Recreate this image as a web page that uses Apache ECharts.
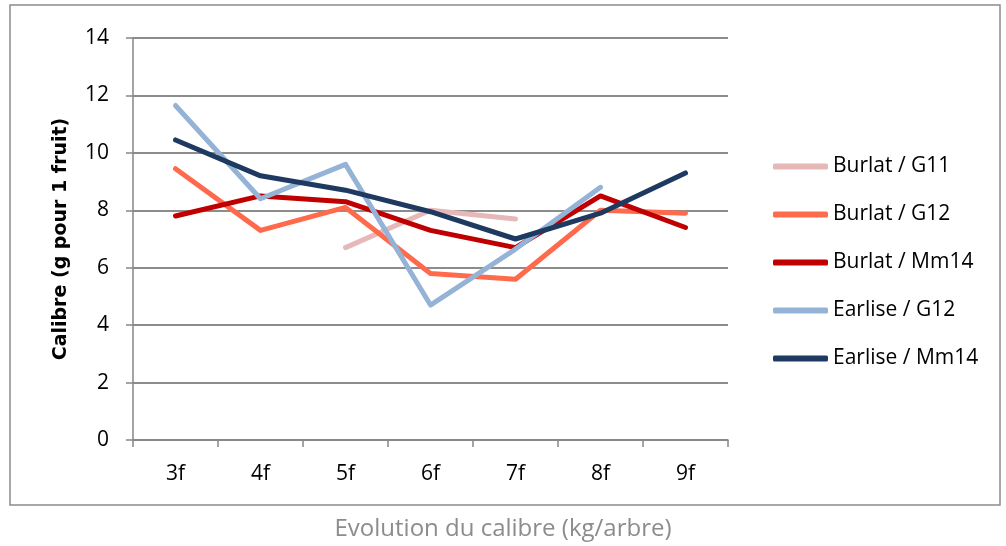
<!DOCTYPE html>
<html>
<head>
<meta charset="utf-8">
<script src="https://cdn.jsdelivr.net/npm/echarts@6/dist/echarts.min.js"></script>
<style>
html, body { margin: 0; padding: 0; background: #fff; }
#chart { width: 1006px; height: 546px; }
</style>
</head>
<body>
<div id="chart"></div>
<script>
var categories = ['3f', '4f', '5f', '6f', '7f', '8f', '9f'];
var burlatG11 = [null, null, 6.7, 8.0, 7.7, null, null];
var burlatG12 = [9.45, 7.3, 8.1, 5.8, 5.6, 8.0, 7.9];
var burlatMm14 = [7.8, 8.5, 8.3, 7.3, 6.7, 8.5, 7.4];
var earliseG12 = [11.65, 8.4, 9.6, 4.7, 6.65, 8.8, null];
var earliseMm14 = [10.45, 9.2, 8.7, 7.95, 7.0, 7.9, 9.3];
var seriesNames = ['Burlat / G11', 'Burlat / G12', 'Burlat / Mm14', 'Earlise / G12', 'Earlise / Mm14'];
var seriesColors = ['#e6b9b8', '#ff6a4d', '#c00000', '#95b3d7', '#1f3a60'];

var chart = echarts.init(document.getElementById('chart'));
var font = 'Open Sans';

function line(idx, data) {
	return {
		name: seriesNames[idx],
		type: 'line',
		data: data,
		symbol: 'none',
		connectNulls: false,
		lineStyle: { width: 5, color: seriesColors[idx], cap: 'round', join: 'round' },
		itemStyle: { color: seriesColors[idx] },
		z: 2 + idx
	};
}

var option = {
	backgroundColor: '#fff',
	animation: false,
	title: {
		text: 'Evolution du calibre (kg/arbre)',
		left: 'center',
		top: 512,
		textStyle: { color: '#8c8c8c', fontSize: 24, fontWeight: 'normal', fontFamily: font }
	},
	graphic: [{
		type: 'rect',
		shape: { x: 10, y: 5, width: 990, height: 500 },
		style: { fill: 'none', stroke: '#8c8c8c', lineWidth: 1.5 },
		z: -1
	}],
	legend: {
		orient: 'vertical',
		left: 768,
		top: 151,
		itemGap: 27,
		itemWidth: 55,
		itemHeight: 6,
		icon: 'roundRect',
		textStyle: { fontSize: 21, lineHeight: 21, color: '#000', fontFamily: font },
		data: seriesNames
	},
	grid: { left: 133, top: 38, width: 595, height: 402 },
	xAxis: {
		type: 'category',
		data: categories,
		boundaryGap: true,
		axisLine: { lineStyle: { color: '#868686', width: 1.5 } },
		axisTick: { show: true, length: 7, lineStyle: { color: '#868686', width: 1.5 } },
		axisLabel: { color: '#000', fontSize: 21, margin: 24, fontFamily: font }
	},
	yAxis: {
		type: 'value',
		min: 0,
		max: 14,
		interval: 2,
		name: 'Calibre (g pour 1 fruit)',
		nameLocation: 'middle',
		nameGap: 62,
		nameTextStyle: { color: '#000', fontSize: 19, fontWeight: 'bold', fontFamily: 'DejaVu Sans' },
		axisLine: { show: true, lineStyle: { color: '#868686', width: 1.5 } },
		axisTick: { show: true, length: 7, lineStyle: { color: '#868686', width: 1.5 } },
		axisLabel: { color: '#000', fontSize: 21, margin: 24, fontFamily: font },
		splitLine: { lineStyle: { color: '#8c8c8c', width: 2 } }
	},
	series: [
		line(0, burlatG11),
		line(1, burlatG12),
		line(2, burlatMm14),
		line(3, earliseG12),
		line(4, earliseMm14)
	]
};

chart.setOption(option);
</script>
</body>
</html>
